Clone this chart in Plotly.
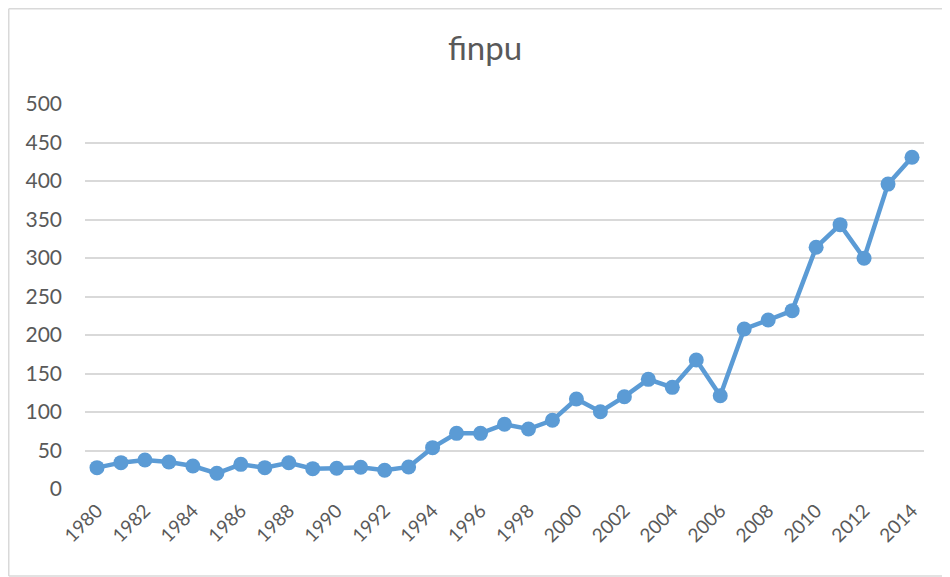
import plotly.graph_objects as go

years = list(range(1980, 2015))
finpu = [27.7, 34.2, 37.7, 35.0, 29.9, 20.4, 32.0, 27.7, 34.0, 26.4,
         27.0, 28.2, 24.3, 28.6, 53.7, 72.3, 72.3, 84.0, 77.9, 89.2,
         116.9, 100.4, 119.9, 142.4, 132.0, 167.5, 121.2, 207.8, 219.5, 231.6,
         313.9, 343.3, 299.6, 396.0, 430.8]
y_ticks = [0, 50, 100, 150, 200, 250, 300, 350, 400, 450, 500]
x_ticks = list(range(1980, 2015, 2))

# page has an 8px body margin, so the figure is sized to fit the window
W, H = 942, 569
L, R, T, B = 77, 26, 96, 88
pw, ph = W - L - R, H - T - B

fig = go.Figure()
fig.add_trace(go.Scatter(
    x=years, y=finpu, mode="lines+markers",
    line=dict(color="#5B9BD5", width=4.5),
    marker=dict(color="#5B9BD5", size=15),
    showlegend=False,
))

def px_x(p):
    return (p - L) / pw

def px_y(p):
    return (H - B - p) / ph

border = dict(color="#D9D9D9", width=1.5)
xl, xr, yt, yb = px_x(0.75), px_x(W + 20), px_y(0.75), px_y(568)

fig.update_layout(
    width=W, height=H,
    margin=dict(l=L, r=R, t=T, b=B),
    paper_bgcolor="white", plot_bgcolor="white",
    font=dict(family="Lato, 'Open Sans', sans-serif", color="#595959", size=20),
    title=dict(text="finpu", x=477 / W, xanchor="center", y=1 - 40 / H, yanchor="middle",
               font=dict(size=33, color="#595959")),
    xaxis=dict(range=[1979.5, 2014.5], tickvals=x_ticks, ticktext=[str(v) for v in x_ticks],
               tickangle=-45, showgrid=False, zeroline=False, showline=False,
               ticks="", tickfont=dict(size=19, color="#595959"), ticklabelstandoff=6),
    yaxis=dict(range=[0, 500], tickvals=y_ticks, showgrid=True, gridcolor="#D9D9D9",
               gridwidth=1.5, zeroline=False, showline=False, ticks="",
               tickfont=dict(size=21, color="#595959"), ticklabelstandoff=22),
    shapes=[
        dict(type="line", xref="paper", yref="paper", x0=xl, x1=xl, y0=yb, y1=yt, line=border, layer="below"),
        dict(type="line", xref="paper", yref="paper", x0=xl, x1=xr, y0=yt, y1=yt, line=border, layer="below"),
        dict(type="line", xref="paper", yref="paper", x0=xl, x1=xr, y0=yb, y1=yb, line=border, layer="below"),
    ],
)

fig.write_html("out.html")
